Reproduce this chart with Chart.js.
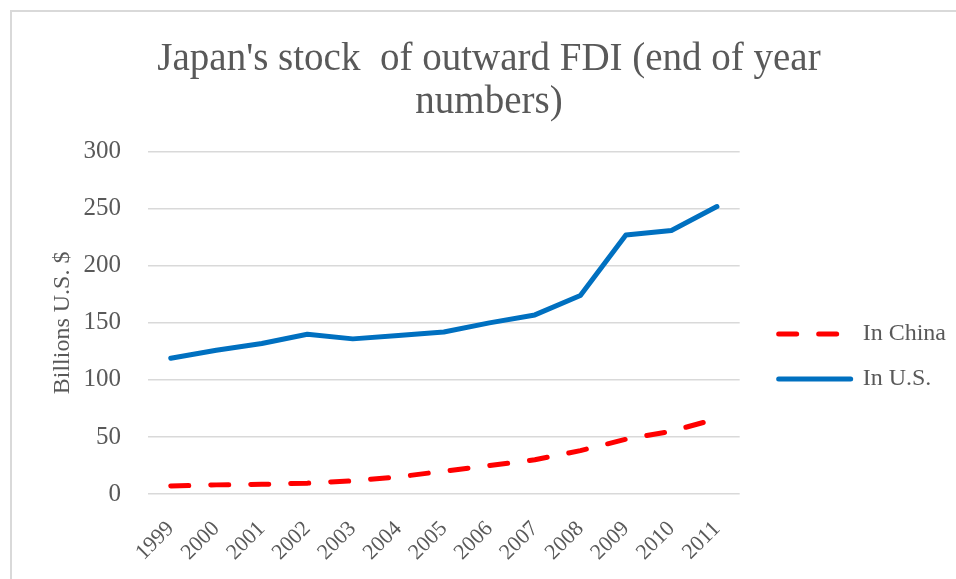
<!DOCTYPE html>
<html>
<head>
<meta charset="utf-8">
<script src="https://cdn.jsdelivr.net/npm/chart.js@4/dist/chart.umd.min.js"></script>
<style>
  html, body { margin: 0; padding: 0; background: #fff; }
  #wrap { position: relative; width: 956px; height: 579px; overflow: hidden; }
  #frame { position: absolute; left: 10px; top: 10px; width: 960px; height: 580px;
           border-left: 2px solid #d9d9d9; border-top: 2px solid #d9d9d9; pointer-events: none; }
</style>
</head>
<body>
<div id="wrap">
  <canvas id="grafico"></canvas>
  <div id="frame"></div>
</div>
<script>
const years = ['1999', '2000', '2001', '2002', '2003', '2004', '2005', '2006', '2007', '2008', '2009', '2010', '2011'];
const inChina = [7, 8, 8.5, 9.5, 11.5, 15, 20, 25, 30, 38, 48, 55, 66];
const inUS = [119, 126, 132, 140, 136, 139, 142, 150, 157, 174, 227, 231, 252];
const yTicks = [0, 50, 100, 150, 200, 250, 300];

const gris = '#595959';
const fuente = 'Liberation Serif';

// mueve leyenda y titulo a donde los pone Excel
const ajustarCajas = {
    id: 'ajustarCajas',
    afterLayout(chart) {
        const l = chart.legend;
        l.left += 18; l.right += 18;
        l.top += 67; l.bottom += 67;
        const t = chart.titleBlock;
        t.left += 9; t.right += 9;
    }
};

const ctx = document.getElementById('grafico').getContext('2d');
new Chart(ctx, {
    type: 'line',
    data: {
        labels: years,
        datasets: [{
            label: 'In China',
            data: inChina,
            borderColor: '#ff0000',
            backgroundColor: '#ff0000',
            borderWidth: 5,
            borderDash: [18, 22],
            borderCapStyle: 'round',
            borderJoinStyle: 'round',
            pointRadius: 0,
            tension: 0
        }, {
            label: 'In U.S.',
            data: inUS,
            borderColor: '#0070c0',
            backgroundColor: '#0070c0',
            borderWidth: 5,
            borderCapStyle: 'round',
            borderJoinStyle: 'round',
            pointRadius: 0,
            tension: 0
        }]
    },
    options: {
        responsive: true,
        maintainAspectRatio: false,
        animation: false,
        layout: { padding: { left: 22, right: 18, top: 0, bottom: 0 } },
        plugins: {
            title: {
                display: true,
                text: ["Japan's stock  of outward FDI (end of year", 'numbers)'],
                color: gris,
                font: { family: fuente, size: 39, weight: 'normal', lineHeight: 1.1 },
                padding: { top: 38, bottom: 28 }
            },
            legend: {
                position: 'right',
                labels: {
                    usePointStyle: true,
                    pointStyle: 'line',
                    pointStyleWidth: 72,
                    color: gris,
                    font: { family: fuente, size: 24 },
                    padding: 21,
                    generateLabels(chart) {
                        const items = Chart.defaults.plugins.legend.labels.generateLabels(chart);
                        return items.map(item => {
                            const ds = chart.data.datasets[item.datasetIndex];
                            item.lineDash = ds.borderDash || [];
                            item.lineCap = 'round';
                            return item;
                        });
                    }
                }
            },
            tooltip: { enabled: false }
        },
        scales: {
            x: {
                offset: true,
                grid: { display: false },
                border: { display: false },
                ticks: {
                    color: gris,
                    font: { family: fuente, size: 22 },
                    autoSkip: false,
                    maxRotation: 45,
                    minRotation: 45,
                    padding: 14
                },
                afterFit(scale) { scale.height = 85; }
            },
            y: {
                min: 0,
                max: 300,
                afterBuildTicks(scale) { scale.ticks = yTicks.map(v => ({ value: v })); },
                grid: { color: '#d9d9d9', lineWidth: 1.5, drawTicks: false },
                border: { display: false },
                ticks: {
                    color: gris,
                    font: { family: fuente, size: 25 },
                    padding: 27
                },
                title: {
                    display: true,
                    text: 'Billions U.S. $',
                    color: gris,
                    font: { family: fuente, size: 24 },
                    padding: { top: 26, bottom: 0 }
                },
                afterFit(scale) { scale.width = 126; }
            }
        }
    },
    plugins: [ajustarCajas]
});
</script>
</body>
</html>
